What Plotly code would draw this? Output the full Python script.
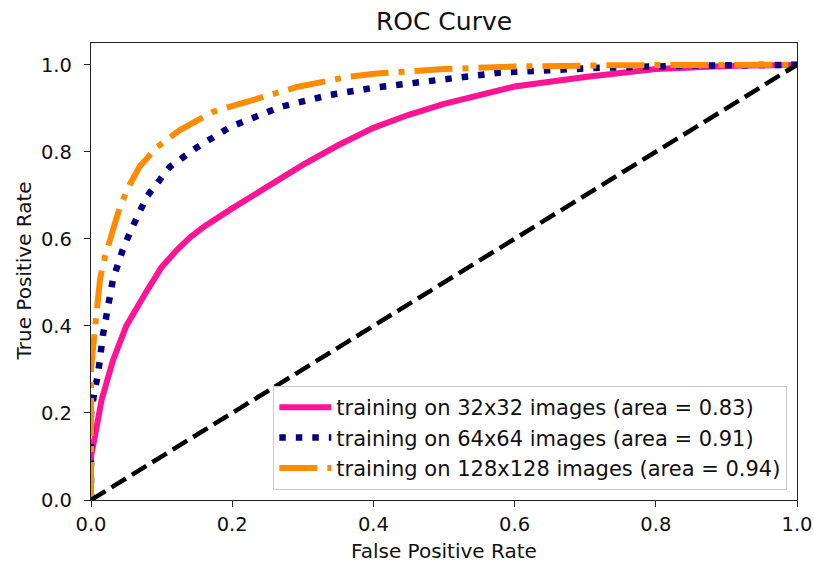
import plotly.graph_objects as go

fpr_32 = [0.0, 0.0, 0.006, 0.015, 0.031, 0.05, 0.079, 0.1, 0.122, 0.14, 0.16, 0.18, 0.2, 0.25, 0.3, 0.35, 0.4, 0.45, 0.5, 0.6, 0.7, 0.8, 0.9, 1.0]
tpr_32 = [0.0, 0.1, 0.15, 0.23, 0.32, 0.40, 0.48, 0.535, 0.575, 0.603, 0.628, 0.65, 0.67, 0.72, 0.77, 0.815, 0.855, 0.885, 0.91, 0.95, 0.972, 0.99, 0.997, 1.0]

fpr_64 = [0.0, 0.0, 0.005, 0.01, 0.017, 0.027, 0.031, 0.045, 0.055, 0.079, 0.112, 0.15, 0.197, 0.268, 0.339, 0.40, 0.5, 0.579, 0.72, 0.85, 1.0]
tpr_64 = [0.0, 0.2, 0.25, 0.29, 0.38, 0.476, 0.506, 0.575, 0.614, 0.697, 0.766, 0.81, 0.857, 0.903, 0.931, 0.947, 0.967, 0.982, 0.993, 0.998, 1.0]

fpr_128 = [0.0, 0.0, 0.006, 0.013, 0.02, 0.041, 0.055, 0.069, 0.093, 0.126, 0.173, 0.221, 0.292, 0.363, 0.405, 0.5, 0.6, 0.75, 0.9, 1.0]
tpr_128 = [0.0, 0.3, 0.40, 0.51, 0.56, 0.674, 0.725, 0.766, 0.81, 0.85, 0.892, 0.915, 0.949, 0.972, 0.98, 0.99, 0.996, 0.999, 1.0, 1.0]

diag = [0.0, 1.0]

tick_vals = [0.0, 0.2, 0.4, 0.6, 0.8, 1.0]
tick_text = ["0.0", "0.2", "0.4", "0.6", "0.8", "1.0"]

labels = ["training on 32x32 images (area = 0.83)",
          "training on 64x64 images (area = 0.91)",
          "training on 128x128 images (area = 0.94)"]

fig = go.Figure()
fig.add_trace(go.Scatter(x=fpr_32, y=tpr_32, mode="lines", name=labels[0],
                         line=dict(color="#FF1493", width=6)))
fig.add_trace(go.Scatter(x=fpr_64, y=tpr_64, mode="lines", name=labels[1],
                         line=dict(color="#000080", width=6.5, dash="6.5px,10px")))
fig.add_trace(go.Scatter(x=fpr_128, y=tpr_128, mode="lines", name=labels[2],
                         line=dict(color="#FF8C00", width=6, dash="38px,10px,6px,10px")))
fig.add_trace(go.Scatter(x=diag, y=diag, mode="lines", showlegend=False,
                         line=dict(color="black", width=4.5, dash="17px,7px")))

axis_common = dict(showline=True, linecolor="#222222", linewidth=1.3, mirror=True,
                   ticks="outside", ticklen=6, tickwidth=1.3, tickcolor="#222222",
                   showgrid=False, zeroline=False, automargin=False,
                   tickfont=dict(size=19.5, color="#111111"),
                   tickvals=tick_vals, ticktext=tick_text)
fig.update_layout(
    width=814, height=563,
    margin=dict(l=91, r=17, t=43, b=63),
    paper_bgcolor="white", plot_bgcolor="white",
    font=dict(family="DejaVu Sans", color="#111111"),
    title=dict(text="ROC Curve", x=0.5, xref="paper", xanchor="center",
               y=1 - 21.5 / 563, yref="container", yanchor="middle",
               font=dict(size=25, color="#111111")),
    xaxis=dict(range=[0, 1], ticklabelstandoff=0, **axis_common),
    yaxis=dict(range=[0, 1.05], ticklabelstandoff=8, **axis_common),
    legend=dict(x=0.986, y=0.022, xanchor="right", yanchor="bottom",
                bgcolor="rgba(255,255,255,0.85)", bordercolor="#cccccc",
                borderwidth=1.2, font=dict(size=21, color="#111111"),
                itemwidth=52),
    annotations=[
        dict(text="False Positive Rate", x=0.5, y=0, xref="paper", yref="paper",
             xanchor="center", yanchor="middle", yshift=-51, showarrow=False,
             font=dict(size=20, color="#111111")),
        dict(text="True Positive Rate", x=0, y=0.5, xref="paper", yref="paper",
             xanchor="center", yanchor="middle", xshift=-68, textangle=-90,
             showarrow=False, font=dict(size=20, color="#111111")),
    ],
)

fig.write_html("out.html", config={"displayModeBar": False},
               post_script="document.body.style.margin='0px';document.body.style.overflow='hidden';")
